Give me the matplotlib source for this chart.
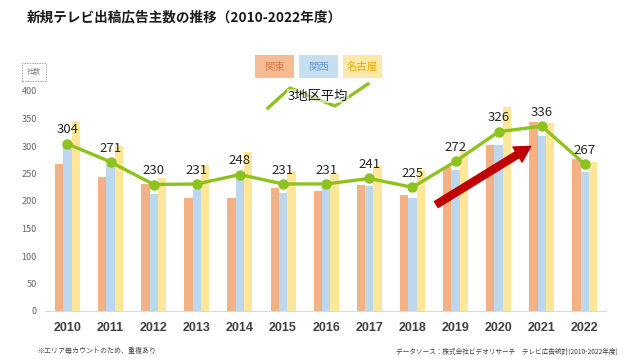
import numpy as np
import matplotlib
matplotlib.use("Agg")
import matplotlib.pyplot as plt
from matplotlib.lines import Line2D
from matplotlib.patches import Rectangle, FancyArrowPatch

plt.rcParams["font.family"] = ["Noto Sans CJK JP", "DejaVu Sans"]

years = ["2010", "2011", "2012", "2013", "2014", "2015", "2016",
         "2017", "2018", "2019", "2020", "2021", "2022"]
kanto = [267, 243, 231, 205, 205, 223, 219, 229, 211, 262, 302, 344, 276]
kansai = [300, 265, 213, 221, 244, 214, 233, 227, 206, 256, 302, 318, 252]
nagoya = [345, 300, 242, 265, 290, 253, 249, 264, 256, 291, 371, 342, 271]
average = [304, 271, 230, 231, 248, 231, 231, 241, 225, 272, 326, 336, 267]

c_kanto = "#F4B183"
c_kansai = "#BDD7EE"
c_nagoya = "#FFE699"
c_line = "#8DC21F"

fig = plt.figure(figsize=(6.4, 3.6), dpi=100)
ax = fig.add_axes([45 / 640, 49 / 360, 561 / 640, 220 / 360])

x = np.arange(len(years))
w = 0.193
ax.bar(x - w, kanto, w, color=c_kanto, zorder=2)
ax.bar(x, kansai, w, color=c_kansai, zorder=2)
ax.bar(x + w, nagoya, w, color=c_nagoya, zorder=2)

ax.plot(x, average, color=c_line, lw=2.4, marker="o", ms=6.5, zorder=4)
for xi, v in zip(x, average):
    ax.annotate(str(v), (xi, v), xytext=(0, 10), textcoords="offset points",
                ha="center", va="center", fontsize=9.5, color="#262626", zorder=5)

ax.set_xlim(-0.52, 12.49)
ax.set_ylim(0, 400)
ax.set_yticks(range(0, 401, 50))
ax.set_xticks(x)
ax.set_xticklabels(years, fontsize=9, fontweight="bold", color="#404040",
                   family=["Liberation Sans"])
ax.tick_params(axis="x", length=0, pad=8)
ax.tick_params(axis="y", length=0, pad=6, labelsize=6.5, labelcolor="#666666")
for s in ["top", "right", "left"]:
    ax.spines[s].set_visible(False)
ax.spines["bottom"].set_color("#D9D9D9")

# red trend arrow
arrow = FancyArrowPatch((8.5, 191), (10.8, 302),
                        arrowstyle="simple,head_width=0.9,head_length=0.8,tail_width=0.36",
                        mutation_scale=14, color="#C00000", zorder=6)
ax.add_patch(arrow)

# title
fig.text(27 / 640, 1 - 17 / 360, "新規テレビ出稿広告主数の推移（2010-2022年度）",
         fontsize=9.8, fontweight="bold", ha="left", va="center", color="#1a1a1a")

# unit box
fig.text(34 / 640, 1 - 72 / 360, "社数", fontsize=5, color="#808080",
         ha="center", va="center",
         bbox=dict(boxstyle="square,pad=0.7", fc="white", ec="#A0A0A0", ls=(0, (2, 1)), lw=0.6))

# legend boxes
leg = [("関東", c_kanto, "#E07B4A", 255), ("関西", c_kansai, "#6A9FD4", 299),
       ("名古屋", c_nagoya, "#E0A800", 343)]
for label, fc, tc, lx in leg:
    fig.patches.append(Rectangle((lx / 640, 1 - 78 / 360), 39 / 640, 23 / 360,
                                 transform=fig.transFigure, fc=fc, ec="none", alpha=0.85))
    fig.text((lx + 19.5) / 640, 1 - 66.5 / 360, label, fontsize=7.5, color=tc,
             ha="center", va="center")

# line icon with label
px = [268, 290, 335, 368]
py = [108, 88, 106, 84]
fig.lines.append(Line2D([p / 640 for p in px], [1 - p / 360 for p in py],
                        transform=fig.transFigure, color=c_line, lw=2.4))
fig.text(318 / 640, 1 - 96 / 360, "3地区平均", fontsize=9.5, color="#1a1a1a",
         ha="center", va="center",
         bbox=dict(boxstyle="square,pad=0.05", fc="white", ec="none", alpha=0.55))

# footnotes
fig.text(37 / 640, 1 - 351 / 360, "※エリア毎カウントのため、重複あり",
         fontsize=5, color="#404040", ha="left", va="center")
fig.text(618 / 640, 1 - 352 / 360, "データソース：株式会社ビデオリサーチ　テレビ広告統計(2010-2022年度)",
         fontsize=4.8, color="#404040", ha="right", va="center")

fig.savefig("out.png", dpi=100)
